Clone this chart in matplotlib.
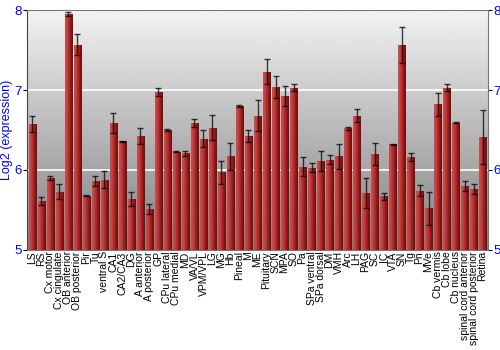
import matplotlib
matplotlib.use('Agg')
import matplotlib.pyplot as plt
import numpy as np

plt.rcParams['font.family'] = ['Liberation Sans', 'DejaVu Sans']

# regions
labels = ['LS', 'RS', 'Cx motor', 'Cx cingulate', 'OB anterior', 'OB posterior', 'Pir', 'Tu',
          'ventral S', 'CA1', 'CA2/CA3', 'DG', 'A anterior', 'A posterior', 'GP', 'CPu lateral',
          'CPu medial', 'MD', 'VA/VL', 'VPM/VPL', 'LG', 'MG', 'Hb', 'Pineal', 'M', 'ME',
          'Pituitary', 'SCN', 'MPA', 'SO', 'Pa', 'SPa ventral', 'SPa dorsal', 'DM', 'VMH', 'Arc',
          'LH', 'PAG', 'SC', 'IC', 'VTA', 'SN', 'Tg', 'Pn', 'MVe', 'Cb vermis', 'Cb lobe',
          'Cb nucleus', 'spinal cord anterior', 'spinal cord posterior', 'Retina']

# log2 expression
values = [6.58, 5.61, 5.90, 5.73, 7.95, 7.57, 5.68, 5.86,
          5.88, 6.59, 6.36, 5.64, 6.43, 5.51, 6.98, 6.50,
          6.23, 6.21, 6.59, 6.39, 6.53, 5.97, 6.17, 6.80, 6.42, 6.68,
          7.23, 7.04, 6.93, 7.03, 6.04, 6.03, 6.11, 6.13, 6.17, 6.52,
          6.68, 5.71, 6.20, 5.67, 6.32, 7.56, 6.16, 5.74, 5.52, 6.82, 7.03,
          6.59, 5.80, 5.76, 6.41]

errors = [0.10, 0.05, 0.03, 0.09, 0.025, 0.13, 0.008, 0.06,
          0.105, 0.125, 0.005, 0.087, 0.10, 0.066, 0.052, 0.008,
          0.004, 0.03, 0.047, 0.105, 0.153, 0.147, 0.164, 0.016, 0.075, 0.197,
          0.153, 0.137, 0.124, 0.041, 0.118, 0.058, 0.125, 0.052, 0.154, 0.023,
          0.08, 0.185, 0.135, 0.046, 0.004, 0.226, 0.05, 0.068, 0.207, 0.149, 0.046,
          0.006, 0.058, 0.06, 0.336]

fig = plt.figure(figsize=(5, 3.5), dpi=100)
ax = fig.add_axes([0.054, 0.286, 0.922, 0.685])

x = np.arange(len(labels))
x0, x1 = -0.6, len(labels) - 0.4

# gray gradient background, light at top
grad = np.linspace(0.95, 0.50, 256).reshape(-1, 1)
ax.imshow(grad, cmap='gray', vmin=0, vmax=1, aspect='auto', origin='upper',
          extent=[x0, x1, 5, 8], zorder=0)

for yv in [6, 7]:
    ax.axhline(yv, color='white', lw=1.2, zorder=1)

# bars with cylinder-like shading
bars = ax.bar(x, np.array(values) - 5, bottom=5, width=0.83, color='#b03030',
              edgecolor='none', zorder=2)
shade = np.array([[0.80, 0.30, 0.30], [0.78, 0.27, 0.27], [0.72, 0.20, 0.20],
                  [0.62, 0.14, 0.14], [0.52, 0.08, 0.08], [0.45, 0.05, 0.05]])
cols = np.array([np.interp(np.linspace(0, 1, 32), np.linspace(0, 1, len(shade)), shade[:, c])
                 for c in range(3)]).T.reshape(1, 32, 3)
for b in bars:
    bx, by = b.get_x(), b.get_y()
    im = ax.imshow(cols, aspect='auto', extent=[bx, bx + b.get_width(), by, by + b.get_height()],
                   zorder=2, interpolation='bilinear')
    im.set_clip_path(b)

ax.errorbar(x, values, yerr=errors, fmt='none', ecolor='black', elinewidth=1,
            capsize=2.5, capthick=1, alpha=0.75, zorder=3)

ax.set_xlim(x0, x1)
ax.set_ylim(5, 8)
ax.set_xticks(x)
ax.set_xticklabels(labels, rotation=90, fontsize=7.5)
ax.tick_params(axis='x', length=0, pad=1)
ax.set_yticks([5, 6, 7, 8])
ax.tick_params(axis='y', labelcolor='blue', labelsize=9.5, length=3, pad=1,
               left=True, right=True, labelleft=True, labelright=True)
fig.text(0.015, 0.629, 'Log2 (expression)', color='blue', fontsize=9,
         rotation=90, ha='center', va='center')

for side in ['top', 'right', 'bottom']:
    ax.spines[side].set_color('#777777')
ax.spines['left'].set_color('#444444')

fig.savefig('out.png', dpi=100)
